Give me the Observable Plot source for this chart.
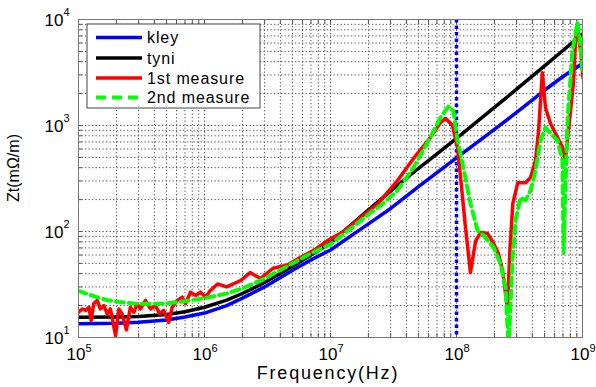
<!DOCTYPE html>
<html><head><meta charset="utf-8">
<script src="https://cdn.jsdelivr.net/npm/d3@7"></script>
<script src="https://cdn.jsdelivr.net/npm/@observablehq/plot@0.6"></script>
<style>
body{margin:0;background:#fff}
#chart{width:596px;height:387px;overflow:hidden}
</style>
</head><body><div id="chart"></div>
<script>
// Tick positions / labels
const xMajor = [1e5, 1e6, 1e7, 1e8, 1e9];
const xExp = ["5", "6", "7", "8", "9"];
const yMajor = [1e1, 1e2, 1e3, 1e4];
const yExp = ["1", "2", "3", "4"];
const seriesNames = ["kley", "tyni", "1st measure", "2nd measure"];
const seriesColors = ["#0000ff", "#000000", "#ff0000", "#00ff00"];
const resonanceF = [1e8];

// kley (blue)
const kleyF = [1e5, 2e5, 3e5, 5e5, 7e5, 1e6, 1.5e6, 2e6, 3e6, 5e6, 7e6, 1e7, 2e7, 3e7, 5e7, 7e7, 1e8, 2e8, 3e8, 5e8, 7e8, 1e9];
const kleyZ = [13.5, 13.6, 13.9, 14.6, 15.6, 17, 20, 23.5, 30, 43, 54, 67, 118, 165, 265, 360, 495, 920, 1330, 2150, 2900, 3850];

// tyni (black)
const tyniF = [1e5, 2e5, 3e5, 5e5, 7e5, 1e6, 1.5e6, 2e6, 3e6, 5e6, 7e6, 1e7, 2e7, 3e7, 5e7, 7e7, 1e8, 2e8, 3e8, 5e8, 7e8, 1e9];
const tyniZ = [15.5, 15.6, 15.8, 16.5, 17.5, 19.3, 22.5, 26, 33, 47, 60, 78, 160, 240, 395, 540, 754, 1480, 2200, 3650, 5100, 7300];

// 1st measure (red)
const m1F = [1e5, 1.07e5, 1.137e5, 1.21e5, 1.26e5, 1.32e5, 1.41e5, 1.49e5, 1.59e5, 1.69e5, 1.79e5, 1.97e5, 2.09e5, 2.22e5, 2.4e5, 2.58e5, 2.75e5, 2.92e5, 3.1e5, 3.4e5, 3.73e5, 4.08e5, 4.42e5, 4.75e5, 5.2e5, 5.54e5, 6.07e5, 6.66e5, 7.06e5, 7.74e5, 8.49e5, 9.3e5, 1.02e6, 1.11e6, 1.27e6, 1.5e6, 1.94e6, 2.3e6, 2.78e6, 3.5e6, 4.5e6, 5.8e6, 7.3e6, 9.5e6, 1.27e7, 1.73e7, 2.37e7, 3.4e7, 4.56e7, 6.2e7, 7.47e7, 8.2e7, 9.3e7, 1.02e8, 1.07e8, 1.17e8, 1.29e8, 1.42e8, 1.56e8, 1.76e8, 1.97e8, 2.15e8, 2.32e8, 2.45e8, 2.54e8, 2.66e8, 2.8e8, 3.06e8, 3.53e8, 3.87e8, 4.24e8, 4.48e8, 4.8e8, 5.08e8, 5.57e8, 6.34e8, 6.94e8, 7.3e8, 8e8, 8.5e8, 8.83e8, 9.13e8, 9.65e8, 1.01e9];
const m1Z = [17.3, 18.6, 18, 19.3, 14.5, 20.8, 22.4, 18.6, 20, 16.7, 18.6, 10.4, 18.6, 16.7, 11.8, 19.3, 17.3, 20.8, 18.6, 22.4, 18.6, 20, 16.7, 18, 13.9, 19.3, 22.4, 24, 20.8, 26.8, 24.9, 26.8, 24, 27.7, 32, 30, 34.5, 41, 36, 45, 48, 57, 66, 82, 100, 135, 182, 302, 489, 770, 1067, 1165, 1000, 616, 352, 119, 41, 82, 98, 96, 77, 62, 43, 26, 19, 71, 184, 288, 288, 324, 467, 890, 3150, 1480, 1045, 770, 620, 467, 1300, 2660, 7070, 7900, 5100, 2800];

// 2nd measure (green, dashed)
const m2F = [1e5, 1.2e5, 1.4e5, 1.7e5, 2e5, 2.5e5, 3e5, 4e5, 5e5, 7e5, 1e6, 1.5e6, 2e6, 3e6, 5e6, 7e6, 1e7, 1.5e7, 2e7, 2.5e7, 3.4e7, 4.56e7, 6.2e7, 7.47e7, 8.65e7, 9.46e7, 1.018e8, 1.076e8, 1.29e8, 1.47e8, 1.64e8, 1.97e8, 2.23e8, 2.45e8, 2.59e8, 2.78e8, 2.94e8, 3.22e8, 3.53e8, 3.87e8, 4.24e8, 4.64e8, 5.08e8, 5.57e8, 6.34e8, 6.94e8, 7.07e8, 7.6e8, 8.33e8, 9.13e8, 9.65e8, 1e9];
const m2Z = [27.5, 25.5, 24, 22.5, 21.8, 21.2, 20.8, 20.8, 21, 22, 23.5, 26, 29, 36, 50, 62, 76, 110, 145, 176, 244, 402, 770, 1190, 1510, 1380, 721, 545, 184, 102, 92, 71, 50, 30, 8, 53, 127, 209, 196, 244, 376, 721, 957, 841, 721, 468, 63, 1115, 5100, 9370, 5690, 3090];

const toRows = (F, Z) => F.map((f, i) => ({f, z: Z[i]}));
const kley = toRows(kleyF, kleyZ);
const tyni = toRows(tyniF, tyniZ);
const m1 = toRows(m1F, m1Z);
const m2 = toRows(m2F, m2Z);

function logTicks(a, b) {
  const t = [];
  for (let e = a; e < b; e++) for (let k = 1; k <= 9; k++) t.push(k * 10 ** e);
  t.push(10 ** b);
  return t;
}
const xTicks = logTicks(5, 9);
const yTicks = logTicks(1, 4);

const gridStyle = {stroke: "#555", strokeOpacity: 1, strokeDasharray: "1.3,2.2", strokeWidth: 1};

const chart = Plot.plot({
  width: 596, height: 387,
  marginLeft: 78, marginRight: 14, marginTop: 19, marginBottom: 50,
  style: {fontFamily: "Arial, 'Liberation Sans', sans-serif", fontSize: "16px", background: "#fff", color: "#000"},
  x: {type: "log", domain: [1e5, 1e9]},
  y: {type: "log", domain: [10, 1e4]},
  marks: [
    Plot.gridX(xTicks, gridStyle),
    Plot.gridY(yTicks, gridStyle),
    Plot.axisX({ticks: xTicks, tickSize: -4, tickFormat: () => "", label: null, stroke: "#555"}),
    Plot.axisX({ticks: xTicks, anchor: "top", tickSize: -4, tickFormat: () => "", label: null, stroke: "#555"}),
    Plot.axisY({ticks: yTicks, tickSize: -4, tickFormat: () => "", label: null, stroke: "#555"}),
    Plot.axisY({ticks: yTicks, anchor: "right", tickSize: -4, tickFormat: () => "", label: null, stroke: "#555"}),
    Plot.ruleX(resonanceF, {stroke: seriesColors[0], strokeWidth: 3.5, strokeDasharray: "3.5,3"}),
    Plot.line(kley, {x: "f", y: "z", stroke: seriesColors[0], strokeWidth: 3.5, clip: true}),
    Plot.line(tyni, {x: "f", y: "z", stroke: seriesColors[1], strokeWidth: 3.5, clip: true}),
    Plot.line(m1, {x: "f", y: "z", stroke: seriesColors[2], strokeWidth: 3.5, clip: true, strokeLinejoin: "round"}),
    Plot.line(m2, {x: "f", y: "z", stroke: seriesColors[3], strokeWidth: 4, strokeDasharray: "8,5", clip: true}),
    Plot.frame({stroke: "#777", strokeWidth: 1}),
    // tick labels: base "10" plus superscript exponent
    Plot.text(xMajor, {x: d => d, frameAnchor: "bottom", text: () => "10", textAnchor: "end", lineAnchor: "bottom", dx: 7, dy: 22, fontSize: 17}),
    Plot.text(xMajor, {x: d => d, frameAnchor: "bottom", text: (d, i) => xExp[i], textAnchor: "start", lineAnchor: "bottom", dx: 7, dy: 14, fontSize: 11}),
    Plot.text(yMajor, {y: d => d, frameAnchor: "left", text: () => "10", textAnchor: "end", lineAnchor: "middle", dx: -15, dy: 1, fontSize: 17}),
    Plot.text(yMajor, {y: d => d, frameAnchor: "left", text: (d, i) => yExp[i], textAnchor: "start", lineAnchor: "middle", dx: -15, dy: -7, fontSize: 11})
  ]
});

document.getElementById("chart").appendChild(chart);
const svg = d3.select(chart);

// axis titles
svg.append("text").attr("x", 328).attr("y", 379).attr("text-anchor", "middle")
  .attr("font-size", 18).attr("letter-spacing", "1.8px").attr("fill", "#000").text("Frequency(Hz)");
svg.append("text").attr("transform", "translate(19,168) rotate(-90)").attr("text-anchor", "middle")
  .attr("font-size", 16).attr("fill", "#000").text("Zt(mΩ/m)");

// legend
const lg = svg.append("g").attr("text-anchor", "start");
lg.append("rect").attr("x", 87).attr("y", 24).attr("width", 173).attr("height", 84)
  .style("fill", "#ffffff").style("stroke", "#444").style("stroke-width", "1px");
const rowsY = [37.5, 58, 78, 97.5];
seriesNames.forEach((name, i) => {
  lg.append("line").attr("x1", 96).attr("x2", 142).attr("y1", rowsY[i]).attr("y2", rowsY[i])
    .style("stroke", seriesColors[i]).style("stroke-width", i === 3 ? "4px" : "3.5px")
    .style("stroke-dasharray", i === 3 ? "10,6" : "none");
  lg.append("text").attr("x", 147).attr("y", rowsY[i] + 5.5).attr("font-size", 16)
    .attr("text-anchor", "start").attr("letter-spacing", "0.9px").style("fill", "#000").text(name);
});
</script>
</body></html>
